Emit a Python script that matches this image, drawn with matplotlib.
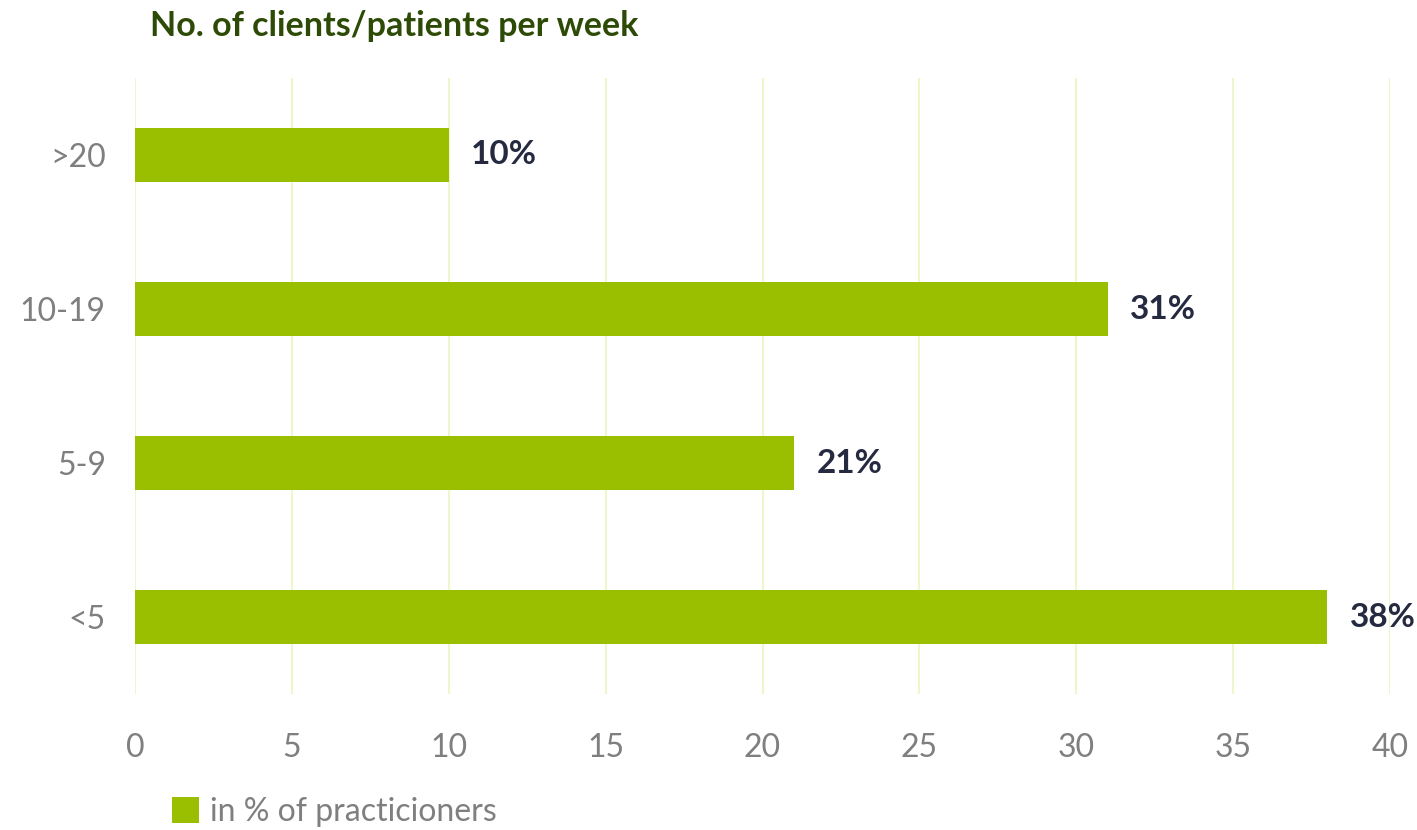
import matplotlib
matplotlib.use("Agg")
import matplotlib.pyplot as plt
from matplotlib.patches import Patch

plt.rcParams['font.family'] = ['Lato', 'DejaVu Sans']

categories = ["<5", "5-9", "10-19", ">20"]
values = [38, 21, 31, 10]
x_ticks = [0, 5, 10, 15, 20, 25, 30, 35, 40]
title = "No. of clients/patients per week"
legend_label = "in % of practicioners"

bar_color = "#99bf00"
grid_color = "#ebf8cc"
tick_color = "#7f7f7f"
label_color = "#262a40"
title_color = "#2d4a06"

fig = plt.figure(figsize=(14.17, 8.30), dpi=100)
ax = fig.add_axes([135 / 1417, 1 - 694 / 830, (1390 - 135) / 1417, (694 - 78) / 830])

ypos = list(range(len(categories)))
ax.barh(ypos, values, height=0.35, color=bar_color, zorder=2)

for y, v in zip(ypos, values):
    ax.text(v + 0.72, y, f"{v}%", va="center", ha="left",
            fontsize=24, fontweight="bold", color=label_color, zorder=3)

ax.set_xlim(0, 40)
ax.set_ylim(-0.5, 3.5)
ax.set_xticks(x_ticks)
ax.set_xticklabels([str(t) for t in x_ticks])
ax.set_yticks(ypos)
ax.set_yticklabels(categories)
ax.tick_params(axis="x", length=0, pad=28, labelsize=23, labelcolor=tick_color)
ax.tick_params(axis="y", length=0, pad=21, labelsize=23, labelcolor=tick_color)
ax.grid(axis="x", color=grid_color, linewidth=1.5, zorder=0)
ax.grid(axis="y", visible=False)
for s in ax.spines.values():
    s.set_visible(False)

fig.text(150 / 1417, 1 - 26 / 830, title, ha="left", va="center",
         fontsize=24.5, fontweight="bold", color=title_color)

handle = Patch(facecolor=bar_color, edgecolor="none")
fig.legend([handle], [legend_label], loc="center left",
           bbox_to_anchor=(172 / 1417, 1 - 812 / 830), frameon=False,
           borderpad=0, borderaxespad=0,
           fontsize=23, labelcolor=tick_color, handlelength=0.85, handleheight=0.85,
           handletextpad=0.35)

fig.savefig("out.png", dpi=100)
